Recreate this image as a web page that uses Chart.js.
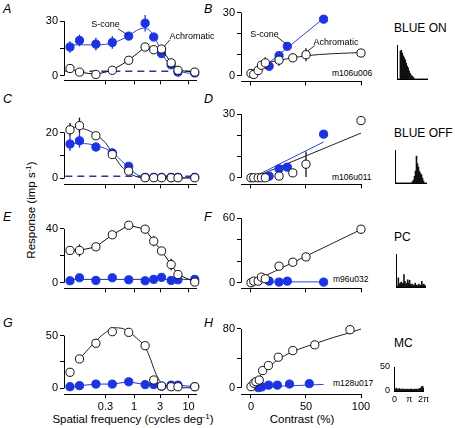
<!DOCTYPE html>
<html>
<head>
<meta charset="utf-8">
<script src="https://cdn.jsdelivr.net/npm/chart.js@4.4.1/dist/chart.umd.min.js"></script>
<style>
  body { margin: 0; width: 455px; height: 428px; position: relative; overflow: hidden; background: #fff;
         font-family: "Liberation Sans", Arial, sans-serif; color: #000; }
  canvas { position: absolute; }
  .t { position: absolute; white-space: nowrap; line-height: 1; }
  .let { font-size: 12.5px; font-style: italic; }
  .cls { font-size: 12px; }
  .cell { font-size: 8.5px; }
  .ax { font-size: 11.5px; }
  sup { font-size: 70%; line-height: 0; vertical-align: 0; position: relative; top: -0.5em; }
</style>
</head>
<body>
<div class="t let" style="left:3px;top:3px">A</div>
<div class="t let" style="left:204px;top:3px">B</div>
<div class="t let" style="left:3px;top:93px">C</div>
<div class="t let" style="left:204px;top:93px">D</div>
<div class="t let" style="left:3px;top:211px">E</div>
<div class="t let" style="left:204px;top:211px">F</div>
<div class="t let" style="left:3px;top:317px">G</div>
<div class="t let" style="left:204px;top:317px">H</div>

<div class="t cls" style="left:394px;top:22px">BLUE ON</div>
<div class="t cls" style="left:394px;top:127px">BLUE OFF</div>
<div class="t cls" style="left:394px;top:231px">PC</div>
<div class="t cls" style="left:394px;top:337px">MC</div>

<div class="t cell" style="left:332px;top:69px">m106u006</div>
<div class="t cell" style="left:332px;top:173px">m106u011</div>
<div class="t cell" style="left:333px;top:275px">m96u032</div>
<div class="t cell" style="left:333px;top:379px">m128u017</div>

<div class="t ax" style="left:133px;top:414px;transform:translateX(-50%)">Spatial frequency (cycles deg<sup>-1</sup>)</div>
<div class="t ax" style="left:302px;top:414px;transform:translateX(-50%)">Contrast (%)</div>
<div class="t ax" style="left:32px;top:210px;transform:translate(-50%,-50%) rotate(-90deg)">Response (imp s<sup>-1</sup>)</div>

<script>
// ---------- data ----------
// spatial frequencies (cycles/deg) used in every left panel
const sf = [0.067, 0.1, 0.2, 0.4, 0.8, 1.6, 2.3, 3.2, 4.8, 6.4, 13];
// contrasts (%) for the right panels
const con = [0, 2.5, 6.5, 9.5, 13, 25.5, 38, 50, 100];
const conS = [16.5, 25.5, 33, 66];

// A  (blue on, spatial)
const aSc = [15.8, 19.4, 17.4, 18.3, 21.8, 28.9, 21.3, 12.2, 6, 2, 1.5];
const aScErr = [3.2, 3.2, 3.5, 3.5, 1.2, 4.5, 1.5, 1.5, 0, 0, 0];
const aAch = [4, 2, 0.7, 3, 8.5, 15.8, 14.3, 14.7, 7.1, 3, 2];
const aFitX = [0.067, 0.1, 0.2, 0.3, 0.4, 0.55, 0.8, 1.1, 1.5, 2, 2.5, 3.2, 4, 5, 6.5, 9, 13];
const aFitSc = [17, 17, 17, 17.3, 18, 19.5, 22, 24.8, 26.2, 24.5, 20, 13, 8, 5, 2.8, 1.6, 1.2];
const aBase = 2.5;

// B  (blue on, contrast)
const bAch = [1.1, 0.6, 2.5, 5, 6.1, 7.4, 8.5, 10, 10.8];
const bAchErr = [0, 0, 0, 1.5, 2.7, 2.6, 2, 3.1, 0];
const bSc = [4.5, 9.6, 14, 26.9];
const bScErr = [2, 1, 1.5, 1.5];
const bFitAchX = [0, 4, 8, 13, 20, 25.5, 38, 50, 75, 100];
const bFitAch = [0.5, 2.5, 4.2, 5.6, 6.8, 7.4, 8.5, 9.5, 10.5, 11];
const bFitScX = [8, 66];
const bFitSc = [2.6, 27.3];

// C  (blue off, spatial)
const cSc = [15, 16.4, 13.7, 11.1, 5.3, 0.5, 0.5, 0.5, 0.5, 0.5, 0.5];
const cScErr = [3, 3, 2, 2, 1, 0, 0, 0, 0, 0, 0];
const cAch = [21.2, 23, 18.6, 10.4, 3.2, 0.3, 0.3, 0.3, 0.3, 0.3, 0.3];
const cAchErr = [3, 3.5, 1, 1.5, 0, 0, 0, 0, 0, 0, 0];
const cFitX = [0.067, 0.1, 0.15, 0.2, 0.3, 0.4, 0.5, 0.6, 0.8, 1, 1.3, 1.8, 13];
const cFitAch = [22.5, 22, 20.8, 19, 15.5, 11, 7.5, 5, 2.5, 1.2, 0.4, 0.2, 0.2];
const cFitSc = [15.2, 15.2, 15, 14.3, 13, 11.3, 9.3, 7.5, 4.8, 2.6, 1, 0.4, 0.3];
const cBase = 1;

// D  (blue off, contrast)
const dAch = [0, 0, 0, 0, 0, 0.8, 2.3, 6.4, 27];
const dAchErr = [0, 0, 0, 0, 0, 0, 0, 6, 0];
const dSc = [0.75, 4.2, 5, 20.6];
const dScErr = [0, 0, 0, 1];
const dFitAchX = [2, 100];
const dFitAch = [0, 21.1];
const dFitScX = [1, 66];
const dFitSc = [0, 16.9];

// E  (PC, spatial)
const eSc = [1.5, 3.7, 1.7, 3.7, 2.2, 1.5, 2.5, 4, 1.7, 2.2, 2.5];
const eAch = [24, 24, 26.7, 35.6, 42.7, 39.8, 30.9, 23.6, 13.5, 6.1, 0.5];
const eAchErr = [0, 4.5, 0, 0, 0, 3, 3.7, 3, 4.3, 3, 0];
const eFitScX = [0.067, 13];
const eFitSc = [2.5, 2.5];

// F  (PC, contrast)
const fAch = [0, 1.5, 1.5, 5.2, 3.7, 15.4, 19.1, 24, 49.8];
const fAchErr = [0, 0, 0, 0, 0, 0, 0, 0, 4];
const fSc = [1.5, 0.6, 1.5, 0.6];
const fFitAchX = [0, 100];
const fFitAch = [0, 49.5];
const fFitScX = [5, 66];
const fFitSc = [0.8, 0.8];

// G  (MC, spatial)
const gSc = [1.5, 2.5, 4, 4, 6.2, 3.5, 3.5, 2, 3, 3, 1.5];
const gAch = [15.2, 27.9, 42.8, 53.8, 53.2, 40.5, 7.9, 2.2, 1.5, 1.5, 1.5];
const gFitX = [0.1, 0.15, 0.2, 0.3, 0.45, 0.6, 0.8, 1.1, 1.6, 2, 2.3, 2.8, 3.3, 4.5, 13];
const gFitAch = [28, 38, 45, 53, 57.5, 57, 54, 48, 39, 28, 19, 9, 4, 0.6, 0.5];

// H  (MC, contrast)
const hCon = [0, 2.7, 4.5, 7.5, 10.6, 15.8, 24.8, 38, 58, 90];
const hAch = [1.4, 6, 8.2, 10.4, 23.3, 30.2, 41.5, 50.6, 58.4, 79];
const hConS = [6.7, 9.7, 16, 24, 35, 53];
const hSc = [0, 1, 3.5, 3.5, 5, 5.5];
const hFitX = [0, 2.5, 5, 7.5, 10, 15, 20, 25, 38, 50, 60, 75, 90, 100];
const hFitAch = [0, 5.5, 10.5, 15, 19, 26.5, 33, 39, 49, 56, 61, 68.5, 75, 80];
const hFitScX = [6.7, 66];
const hFitSc = [0.8, 4.5];

// phase histograms, 32 bins over 0..2pi (imp/s)
const histOn = [0, 0, 0, 58, 60, 54, 48, 44, 40, 33, 27, 23, 17, 12, 8, 6, 4, 2, 0, 0, 0, 0, 0, 0, 0, 0, 0, 0, 0, 0, 0, 0];
const histOff = [0, 0, 0, 0, 0, 0, 0, 0, 0, 0, 0, 0, 0, 0, 0, 0, 0, 3, 6, 14, 25, 56, 40, 33, 24, 20, 17, 10, 4, 0, 0, 0];
const histPC = [0, 2, 19, 6, 8, 10, 7, 8, 26, 12, 6, 8, 15, 8, 14, 6, 4, 6, 3, 4, 8, 4, 3, 4, 6, 3, 4, 12, 4, 6, 4, 2];
const histMC = [5, 4, 6, 4, 3, 5, 4, 3, 4, 4, 3, 4, 3, 3, 4, 3, 3, 4, 4, 3, 3, 4, 3, 4, 3, 4, 4, 5, 6, 9, 10, 6];
const phaseLbl = { 0: '0', 16: 'π', 31: '2π' };

// ---------- look ----------
const BLUE = '#1b33e0';
const BLUE_LINE = '#2f46c9';
const DASH = '#2b3a90';
const FONT = '"Liberation Sans", Arial, sans-serif';
Chart.defaults.font.family = FONT;
Chart.defaults.color = '#000';

const YW = 32, PT = 14, PR = 26;
const XH = 8, XHL = 24;
const R = 4.1;

function place(area, xh) {
    const w = area.r - area.l + YW + PR;
    const h = area.b - area.t + PT + xh;
    const c = document.createElement('canvas');
    c.width = w;
    c.height = h;
    c.style.left = (area.l - YW) + 'px';
    c.style.top = (area.t - PT) + 'px';
    c.style.width = w + 'px';
    c.style.height = h + 'px';
    document.body.appendChild(c);
    return c;
}

const pts = (xs, ys) => xs.map((x, i) => ({ x: x, y: ys[i] }));

// axis lines (offset style), error bars and the little text notes
const frame = {
    id: 'frame',
    beforeDatasetsDraw(chart, args, o) {
        const { ctx, chartArea: a, scales: { x, y } } = chart;
        const al = v => Math.round(v) + 0.5;
        ctx.save();
        ctx.strokeStyle = '#000';
        ctx.lineWidth = 1;
        ctx.beginPath();
        ctx.moveTo(al(a.left), y.getPixelForValue(0));
        ctx.lineTo(al(a.left), y.getPixelForValue(o.top));
        ctx.moveTo(a.left, al(a.bottom));
        ctx.lineTo(a.right, al(a.bottom));
        ctx.stroke();

        chart.data.datasets.forEach(ds => {
            if (!ds.errors) return;
            ctx.strokeStyle = ds.borderColor;
            ctx.lineWidth = 1.3;
            ds.data.forEach((p, i) => {
                const e = ds.errors[i];
                if (!e) return;
                const xp = x.getPixelForValue(p.x);
                ctx.beginPath();
                ctx.moveTo(xp, y.getPixelForValue(p.y - e));
                ctx.lineTo(xp, y.getPixelForValue(p.y + e));
                ctx.stroke();
            });
        });
        ctx.restore();
    },
    afterDatasetsDraw(chart, args, o) {
        if (!o.notes) return;
        const { ctx, scales: { x, y } } = chart;
        ctx.save();
        ctx.font = '9px ' + FONT;
        ctx.fillStyle = '#000';
        ctx.strokeStyle = '#000';
        ctx.lineWidth = 0.8;
        ctx.textAlign = 'center';
        ctx.textBaseline = 'middle';
        o.notes.forEach(n => {
            ctx.fillText(n.text, x.getPixelForValue(n.x), y.getPixelForValue(n.y));
            ctx.beginPath();
            ctx.moveTo(x.getPixelForValue(n.from[0]), y.getPixelForValue(n.from[1]));
            ctx.lineTo(x.getPixelForValue(n.to[0]), y.getPixelForValue(n.to[1]));
            ctx.stroke();
        });
        ctx.restore();
    }
};

const gridOpt = { drawOnChartArea: false, color: '#000', tickLength: 4, lineWidth: 1 };

function yAxis(min, max, ticks, shown) {
    return {
        type: 'linear', min: min, max: max,
        afterBuildTicks: s => { s.ticks = ticks.map(v => ({ value: v })); },
        afterFit: s => { s.width = YW; },
        ticks: { font: { size: 11 }, padding: 2, callback: v => shown.includes(v) ? String(v) : '' },
        grid: gridOpt,
        border: { display: false }
    };
}

function xLog(labels) {
    return {
        type: 'logarithmic', min: 0.052, max: 14.3,
        afterBuildTicks: s => { s.ticks = [0.3, 1, 3, 10].map(v => ({ value: v })); },
        afterFit: s => { s.height = labels ? XHL : XH; },
        ticks: { font: { size: 11 }, padding: 2, autoSkip: false, maxRotation: 0,
                 callback: v => labels ? String(v) : '' },
        grid: gridOpt,
        border: { display: false }
    };
}

function xCon(labels) {
    return {
        type: 'linear', min: -9.09, max: 100,
        afterBuildTicks: s => { s.ticks = [0, 50, 100].map(v => ({ value: v })); },
        afterFit: s => { s.height = labels ? XHL : XH; },
        ticks: { font: { size: 11 }, padding: 2, autoSkip: false, maxRotation: 0,
                 callback: v => labels ? String(v) : '' },
        grid: gridOpt,
        border: { display: false }
    };
}

function open(xs, ys, err, line) {
    return { data: pts(xs, ys), errors: err, showLine: !!line, borderColor: '#111', backgroundColor: '#fff',
             pointRadius: R, pointBorderWidth: 1, borderWidth: 1, order: 0, clip: false };
}
function filled(xs, ys, err, line) {
    return { data: pts(xs, ys), errors: err, showLine: !!line, borderColor: BLUE, backgroundColor: BLUE,
             pointRadius: R, pointBorderWidth: 1, borderWidth: 1, order: 1, clip: false };
}
function fit(xs, ys, color) {
    return { data: pts(xs, ys), showLine: true, pointRadius: 0, borderColor: color, borderWidth: 1,
             cubicInterpolationMode: 'monotone', order: 3, clip: false };
}
function dashed(x0, x1, v) {
    return { data: [{ x: x0, y: v }, { x: x1, y: v }], showLine: true, pointRadius: 0, borderColor: DASH,
             borderWidth: 1.5, borderDash: [7, 5], order: 4, clip: false };
}

function panel(area, xs, ys, xh, datasets, frameOpt) {
    new Chart(place(area, xh), {
        type: 'scatter',
        data: { datasets: datasets },
        options: {
            responsive: false, animation: false, devicePixelRatio: 1,
            layout: { padding: { top: PT, right: PR, left: 0, bottom: 0 } },
            scales: { x: xs, y: ys },
            plugins: { legend: { display: false }, tooltip: { enabled: false }, frame: frameOpt }
        },
        plugins: [frame]
    });
}

function hist(area, vals, ymax, labelled) {
    const xh = labelled ? 14 : 2;
    new Chart(place(area, xh), {
        type: 'bar',
        data: {
            labels: vals.map((v, i) => i),
            datasets: [{ data: vals, backgroundColor: '#111', barPercentage: 1, categoryPercentage: 1, borderWidth: 0 }]
        },
        options: {
            responsive: false, animation: false, devicePixelRatio: 1,
            layout: { padding: { top: PT, right: PR, left: 0, bottom: 0 } },
            scales: {
                x: {
                    grid: { display: false, drawTicks: false }, border: { display: false },
                    afterFit: s => { s.height = xh; },
                    ticks: { display: labelled, autoSkip: false, maxRotation: 0, padding: 3, font: { size: 9 },
                             callback: (v, i) => phaseLbl[i] || '' }
                },
                y: {
                    min: 0, max: ymax,
                    grid: { display: false, drawTicks: false }, border: { display: false },
                    afterFit: s => { s.width = YW; },
                    afterBuildTicks: s => { s.ticks = [{ value: 0 }, { value: 50 }]; },
                    ticks: { display: labelled, padding: 4, font: { size: 9 }, callback: v => String(v) }
                }
            },
            plugins: { legend: { display: false }, tooltip: { enabled: false }, frame: { top: ymax } }
        },
        plugins: [frame]
    });
}

// ---------- left column: spatial frequency ----------
panel({ l: 64, r: 197, t: 8, b: 81 }, xLog(false), yAxis(-2.56, 37.26, [0, 15, 30], [0, 30]), XH, [
    open(sf, aAch, null, true),
    filled(sf, aSc, aScErr),
    fit(aFitX, aFitSc, BLUE_LINE),
    dashed(0.055, 14, aBase)
], { top: 30, notes: [
    { text: 'S-cone', x: 0.3, y: 28, from: [0.51, 25.8], to: [0.76, 22.5] },
    { text: 'Achromatic', x: 11.6, y: 21.4, from: [4.57, 19.8], to: [3.55, 16] }
] });

panel({ l: 64, r: 197, t: 112, b: 185 }, xLog(false), yAxis(-2.59, 28.94, [0, 10, 20], [0, 20]), XH, [
    open(sf, cAch, cAchErr),
    filled(sf, cSc, cScErr),
    fit(cFitX, cFitAch, '#222'),
    fit(cFitX, cFitSc, BLUE_LINE),
    dashed(0.055, 14, cBase)
], { top: 20 });

panel({ l: 64, r: 197, t: 216, b: 289 }, xLog(false), yAxis(-4.2, 49.58, [0, 20, 40], [0, 40]), XH, [
    open(sf, eAch, eAchErr, true),
    filled(sf, eSc),
    fit(eFitScX, eFitSc, '#22308f')
], { top: 40 });

panel({ l: 64, r: 197, t: 322, b: 394 }, xLog(true), yAxis(-5.42, 63.02, [0, 25, 50], [0, 50]), XHL, [
    open(sf, gAch),
    filled(sf, gSc, null, true),
    fit(gFitX, gFitAch, '#222')
], { top: 50 });

// ---------- right column: contrast ----------
panel({ l: 241, r: 361, t: 5, b: 82 }, xCon(false), yAxis(-2.69, 33.63, [0, 10, 20, 30], [0, 30]), XH, [
    open(con, bAch, bAchErr),
    filled(conS, bSc, bScErr),
    fit(bFitAchX, bFitAch, '#222'),
    fit(bFitScX, bFitSc, BLUE_LINE)
], { top: 30, notes: [
    { text: 'S-cone', x: 12.3, y: 19.5, from: [23.6, 18.5], to: [31.8, 15.2] },
    { text: 'Achromatic', x: 77.3, y: 15.7, from: [58, 14.3], to: [51.8, 11.9] }
] });

panel({ l: 241, r: 361, t: 108, b: 185 }, xCon(false), yAxis(-3.14, 32.95, [0, 10, 20, 30], [0, 30]), XH, [
    open(con, dAch, dAchErr),
    filled(conS, dSc, dScErr),
    fit(dFitAchX, dFitAch, '#222'),
    fit(dFitScX, dFitSc, BLUE_LINE)
], { top: 30 });

panel({ l: 241, r: 361, t: 212, b: 289 }, xCon(false), yAxis(-5.26, 65.82, [0, 20, 40, 60], [0, 60]), XH, [
    open(con, fAch, fAchErr),
    filled(conS, fSc),
    fit(fFitAchX, fFitAch, '#222'),
    fit(fFitScX, fFitSc, BLUE_LINE)
], { top: 60 });

panel({ l: 241, r: 361, t: 322, b: 394 }, xCon(true), yAxis(-8.59, 89.54, [0, 40, 80], [0, 80]), XHL, [
    open(hCon, hAch),
    filled(hConS, hSc),
    fit(hFitX, hFitAch, '#222'),
    fit(hFitScX, hFitSc, BLUE_LINE)
], { top: 80 });

// ---------- phase histograms ----------
hist({ l: 397, r: 428, t: 45, b: 79 }, histOn, 70.8, false);
hist({ l: 395, r: 427, t: 150, b: 183 }, histOff, 68.75, false);
hist({ l: 396, r: 426, t: 254, b: 287 }, histPC, 68.75, false);
hist({ l: 394, r: 424, t: 367, b: 391 }, histMC, 50, true);
</script>
</body>
</html>
